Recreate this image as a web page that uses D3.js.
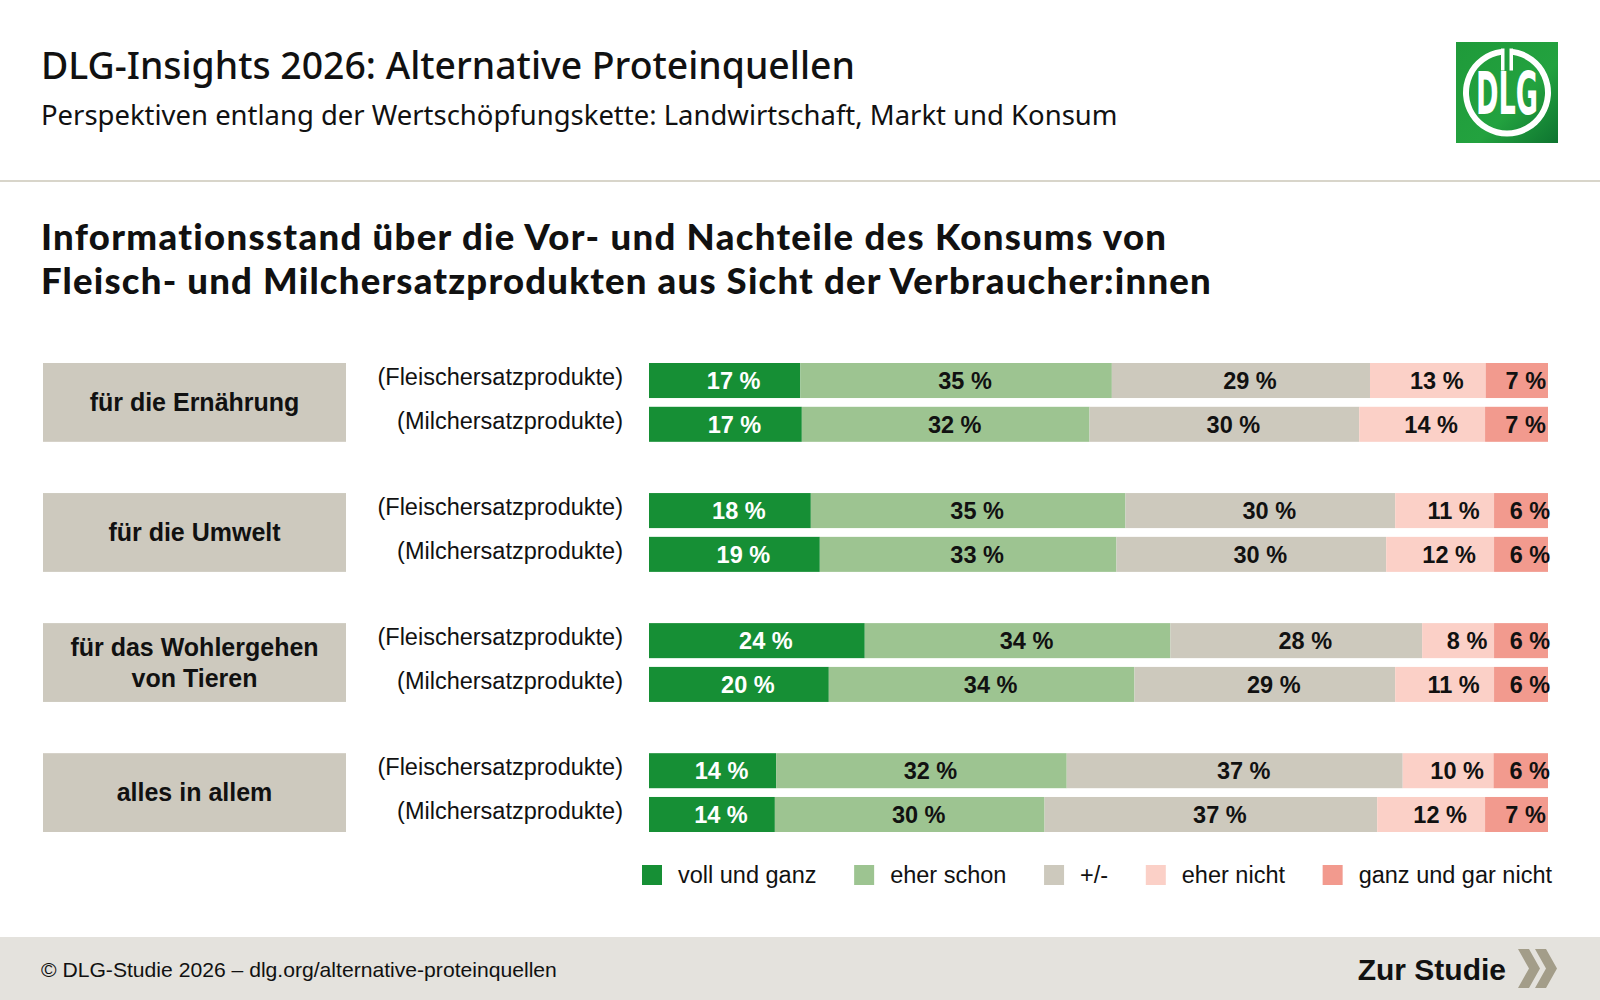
<!DOCTYPE html>
<html>
<head>
<meta charset="utf-8">
<script src="https://cdn.jsdelivr.net/npm/d3@7"></script>
<style>
  body { margin: 0; background: #fff; }
  svg { display: block; }
</style>
</head>
<body>
<div id="chart"></div>
<script>
// Data
const categories = ['für die Ernährung', 'für die Umwelt', 'für das Wohlergehen von Tieren', 'alles in allem'];
const products = ['(Fleischersatzprodukte)', '(Milchersatzprodukte)'];
const answers = ['voll und ganz', 'eher schon', '+/-', 'eher nicht', 'ganz und gar nicht'];
// one value per bar, order: category x product
const vollUndGanz = [17, 17, 18, 19, 24, 20, 14, 14];
const eherSchon   = [35, 32, 35, 33, 34, 34, 32, 30];
const neutral     = [29, 30, 30, 30, 28, 29, 37, 37];
const eherNicht   = [13, 14, 11, 12, 8, 11, 10, 12];
const garNicht    = [7, 7, 6, 6, 6, 6, 6, 7];

const colors = ['#168f35', '#9dc491', '#cdc9bd', '#fbd0c7', '#f29a8e'];
const labelColors = ['#fff', '#111', '#111', '#111', '#111'];

const W = 1600, H = 1000;
const sans = "'Liberation Sans', Arial, sans-serif";
const head = "'Noto Sans', 'Open Sans', sans-serif";
const headBold = "Lato, 'Noto Sans', sans-serif";

const svg = d3.select('#chart').append('svg').attr('width', W).attr('height', H);

//文字寬度對齊
function fitWidth(sel, target) {
    const w = sel.node().getComputedTextLength();
    const fs = parseFloat(sel.attr('font-size'));
    sel.attr('font-size', fs * target / w);
}
// 字距補齊寬度
function spreadTo(sel, target) {
    const w = sel.node().getComputedTextLength();
    const n = sel.text().length;
    sel.attr('letter-spacing', Math.max(0, (target - w) / n));
}

// Header
const t1 = svg.append('text').attr('x', 41).attr('y', 79)
    .attr('font-family', head).attr('font-weight', 500).attr('font-size', 34).attr('fill', '#111')
    .text('DLG-Insights 2026: Alternative Proteinquellen');
fitWidth(t1, 814);
const t2 = svg.append('text').attr('x', 41).attr('y', 125)
    .attr('font-family', head).attr('font-size', 26).attr('fill', '#111')
    .text('Perspektiven entlang der Wertschöpfungskette: Landwirtschaft, Markt und Konsum');
fitWidth(t2, 1077);

// Logo
const defs = svg.append('defs');
const grad = defs.append('linearGradient').attr('id', 'lg').attr('x1', 0).attr('y1', 0).attr('x2', 1).attr('y2', 1);
grad.append('stop').attr('offset', 0).attr('stop-color', '#1f9a3a');
grad.append('stop').attr('offset', 0.6).attr('stop-color', '#23a23f');
grad.append('stop').attr('offset', 1).attr('stop-color', '#0e7430');
const logo = svg.append('g').attr('transform', 'translate(1456,42)');
logo.append('rect').attr('width', 102).attr('height', 101).attr('fill', 'url(#lg)');
const ringArc = d3.arc().innerRadius(38).outerRadius(44)
    .startAngle(0.14).endAngle(2 * Math.PI - 0.14);
logo.append('path').attr('d', ringArc()).attr('transform', 'translate(51,50.5)').attr('fill', '#fff');
logo.append('rect').attr('x', 45).attr('y', 6.5).attr('width', 3.5).attr('height', 22).attr('fill', '#fff');
logo.append('rect').attr('x', 53.5).attr('y', 6.5).attr('width', 3.5).attr('height', 22).attr('fill', '#fff');
logo.append('text').attr('transform', 'translate(51,72) scale(0.52,1)').attr('text-anchor', 'middle')
    .attr('font-family', "'Liberation Sans Narrow', 'DejaVu Sans Condensed', sans-serif")
    .attr('font-weight', 700).attr('font-size', 58).attr('fill', '#fff')
    .text('DLG');

// separator
svg.append('rect').attr('x', 0).attr('y', 180).attr('width', W).attr('height', 2).attr('fill', '#d8d5ca');

// Chart title
const ct1 = svg.append('text').attr('x', 41).attr('y', 250)
    .attr('font-family', headBold).attr('font-weight', 900).attr('font-size', 36.5).attr('fill', '#111')
    .text('Informationsstand über die Vor- und Nachteile des Konsums von');
const ct2 = svg.append('text').attr('x', 41).attr('y', 294)
    .attr('font-family', headBold).attr('font-weight', 900).attr('font-size', 36.5).attr('fill', '#111')
    .text('Fleisch- und Milchersatzprodukten aus Sicht der Verbraucher:innen');
spreadTo(ct1, 1127);
spreadTo(ct2, 1171);

// build rows
const rows = [];
categories.forEach((c, i) => {
    products.forEach((p, j) => {
        const k = i * products.length + j;
        const vals = [vollUndGanz[k], eherSchon[k], neutral[k], eherNicht[k], garNicht[k]];
        const row = { category: c, product: p };
        answers.forEach((a, n) => row[a] = vals[n]);
        rows.push(row);
    });
});

// stack 0~1 (每列加總不一定剛好100)
const series = d3.stack().keys(answers).offset(d3.stackOffsetExpand)(rows);

// Scales
const xScale = d3.scaleLinear([0, 1], [649, 1548]);
const yGroup = d3.scaleBand().domain(categories).range([363, 832]).paddingInner(0.394).paddingOuter(0);
const yInner = d3.scaleBand().domain(products).range([0, yGroup.bandwidth()]).paddingInner(0.2);
const yRow = d => yGroup(d.data.category) + yInner(d.data.product);

// category boxes
const boxes = svg.append('g').selectAll('g').data(categories).join('g')
    .attr('transform', d => `translate(43,${yGroup(d)})`);
boxes.append('rect').attr('width', 303).attr('height', yGroup.bandwidth()).attr('fill', '#cdc9be');
boxes.each(function (d) {
    const g = d3.select(this);
    const words = d.split(' ');
    const lines = [];
    let line = '';
    const probe = g.append('text').attr('font-family', sans).attr('font-weight', 700).attr('font-size', 25);
    words.forEach(w => {
        const test = line ? line + ' ' + w : w;
        probe.text(test);
        if (probe.node().getComputedTextLength() > 270 && line) { lines.push(line); line = w; }
        else line = test;
    });
    lines.push(line);
    probe.remove();
    const lh = 31;
    const y0 = yGroup.bandwidth() / 2 - (lines.length - 1) * lh / 2;
    lines.forEach((l, i) => {
        g.append('text').attr('x', 151.5).attr('y', y0 + i * lh).attr('dy', '0.35em')
            .attr('text-anchor', 'middle').attr('font-family', sans).attr('font-weight', 700)
            .attr('font-size', 25).attr('fill', '#111').text(l);
    });
});

// product labels
svg.append('g').selectAll('text').data(rows).join('text')
    .attr('x', 623)
    .attr('y', d => yGroup(d.category) + yInner(d.product) + yInner.bandwidth() / 2 - 4)
    .attr('dy', '0.35em').attr('text-anchor', 'end')
    .attr('font-family', sans).attr('font-size', 23.5).attr('fill', '#111')
    .text(d => d.product);

// bars
const layers = svg.append('g').selectAll('g').data(series).join('g')
    .attr('fill', (d, i) => colors[i]);
layers.selectAll('rect').data(d => d).join('rect')
    .attr('x', d => xScale(d[0]))
    .attr('y', d => yRow(d))
    .attr('width', d => xScale(d[1]) - xScale(d[0]))
    .attr('height', yInner.bandwidth());

// value labels (leicht nach rechts versetzt wie im Original)
const vlabels = svg.append('g').selectAll('g').data(series).join('g')
    .attr('fill', (d, i) => labelColors[i]);
vlabels.selectAll('text').data(d => d.map(v => ({ v, key: d.key }))).join('text')
    .attr('x', d => (xScale(d.v[0]) + xScale(d.v[1])) / 2 + 9)
    .attr('y', d => yRow(d.v) + yInner.bandwidth() / 2)
    .attr('dy', '0.36em').attr('text-anchor', 'middle')
    .attr('font-family', sans).attr('font-weight', 700).attr('font-size', 23.5)
    .text(d => `${d.v.data[d.key]} %`);

// Legend
const legend = svg.append('g');
const items = legend.selectAll('g').data(answers).join('g');
items.append('rect').attr('width', 20).attr('height', 20).attr('y', 865)
    .attr('fill', (d, i) => colors[i]);
items.append('text').attr('x', 36).attr('y', 875).attr('dy', '0.36em')
    .attr('font-family', sans).attr('font-size', 23.5).attr('fill', '#111')
    .text(d => d);
const legStart = 642, legEnd = 1552;
const itemW = [];
items.each(function () { itemW.push(36 + d3.select(this).select('text').node().getComputedTextLength()); });
const gap = (legEnd - legStart - d3.sum(itemW)) / (answers.length - 1);
let cx = legStart;
items.attr('transform', (d, i) => { const t = `translate(${cx},0)`; cx += itemW[i] + gap; return t; });

// Footer
svg.append('rect').attr('x', 0).attr('y', 937).attr('width', W).attr('height', 63).attr('fill', '#e4e2dd');
const ft = svg.append('text').attr('x', 41).attr('y', 977)
    .attr('font-family', sans).attr('font-size', 20).attr('fill', '#111')
    .text('© DLG-Studie 2026 – dlg.org/alternative-proteinquellen');
fitWidth(ft, 516);
svg.append('text').attr('x', 1506).attr('y', 980).attr('text-anchor', 'end')
    .attr('font-family', sans).attr('font-weight', 700).attr('font-size', 30).attr('fill', '#111')
    .text('Zur Studie');
const chev = (x0) => {
    const w = 22, h = 39, t = 11, top = 949;
    return [[x0, top], [x0 + t, top], [x0 + w, top + h / 2], [x0 + t, top + h], [x0, top + h], [x0 + w - t, top + h / 2]];
};
svg.append('g').selectAll('polygon').data([1518, 1535]).join('polygon')
    .attr('points', d => chev(d).join(' ')).attr('fill', '#a39d89');
</script>
</body>
</html>
